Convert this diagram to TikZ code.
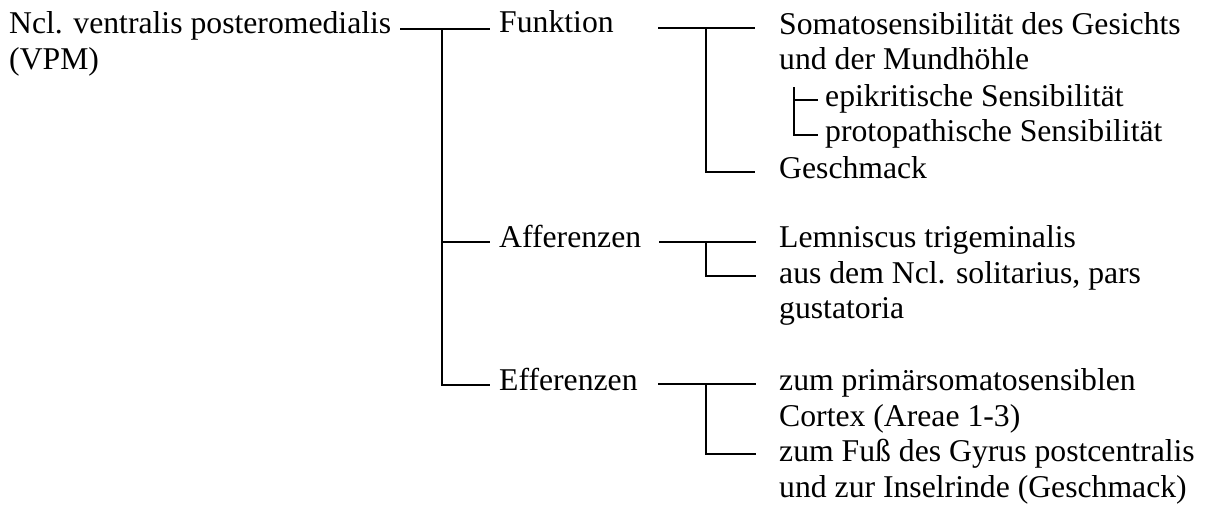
\documentclass[tikz,border=0pt]{standalone}
\usepackage{fontspec}
\setmainfont{Liberation Serif}
\usetikzlibrary{calc}
\begin{document}
\begin{tikzpicture}[x=1pt,y=-1pt,
  lbl/.style={anchor=base west,inner sep=0pt,align=left,
    font=\fontsize{31.7}{35.8}\selectfont},
  branch/.style={line width=1.6pt,line cap=butt}]
\useasboundingbox (0,0) rectangle (1209,507);

% labels (for two-line labels the base anchor sits on the last line)
\node[lbl] (vpm)   at (9,69.3)    {Ncl. ventralis posteromedialis\\(VPM)};
\node[lbl] (fkt)   at (499,32.5)  {Funktion};
\node[lbl] (aff)   at (499,247)   {Afferenzen};
\node[lbl] (eff)   at (499,390)   {Efferenzen};
\node[lbl] (soma)  at (779,69.8)  {Somatosensibilität des Gesichts\\und der Mundhöhle};
\node[lbl] (epi)   at (825,106.5) {epikritische Sensibilität};
\node[lbl] (proto) at (825,141.5) {protopathische Sensibilität};
\node[lbl] (gesch) at (779,178.5) {Geschmack};
\node[lbl] (lemn)  at (779,247.5) {Lemniscus trigeminalis};
\node[lbl] (sol)   at (779,318.8) {aus dem Ncl. solitarius, pars\\gustatoria};
\node[lbl] (cort)  at (779,426)   {zum primärsomatosensiblen\\Cortex (Areae 1-3)};
\node[lbl] (gyr)   at (779,497)   {zum Fuß des Gyrus postcentralis\\und zur Inselrinde (Geschmack)};

% junction points
\coordinate (r1) at (442,29);
\coordinate (r2) at (442,242);
\coordinate (r3) at (442,385);
\coordinate (f0) at (658,28);
\coordinate (f1) at (706,28);
\coordinate (f2) at (706,172);
\coordinate (s0) at (794,87);
\coordinate (s1) at (794,100);
\coordinate (s2) at (794,135);
\coordinate (a0) at (659,242);
\coordinate (a1) at (706,242);
\coordinate (a2) at (706,276);
\coordinate (e0) at (658,384);
\coordinate (e1) at (706,384);
\coordinate (e2) at (706,454);

% main trunk
\draw[branch] ($(vpm.east |- r1)+(9,0)$) -- ($(fkt.west |- r1)+(-9,0)$);
\draw[branch] (r1) -- (r3) -- ($(eff.west |- r3)+(-9,0)$);
\draw[branch] (r2) -- ($(aff.west |- r2)+(-9,0)$);

% Funktion
\draw[branch] (f0) -- ($(soma.west |- f0)+(-24,0)$);
\draw[branch] (f1) -- (f2) -- ($(gesch.west |- f2)+(-24,0)$);
\draw[branch] (s0) -- (s2) -- ($(proto.west |- s2)+(-7,0)$);
\draw[branch] (s1) -- ($(epi.west |- s1)+(-7,0)$);

% Afferenzen
\draw[branch] (a0) -- ($(lemn.west |- a0)+(-23,0)$);
\draw[branch] (a1) -- (a2) -- ($(sol.west |- a2)+(-23,0)$);

% Efferenzen
\draw[branch] (e0) -- ($(cort.west |- e0)+(-23,0)$);
\draw[branch] (e1) -- (e2) -- ($(gyr.west |- e2)+(-23,0)$);
\end{tikzpicture}
\end{document}
